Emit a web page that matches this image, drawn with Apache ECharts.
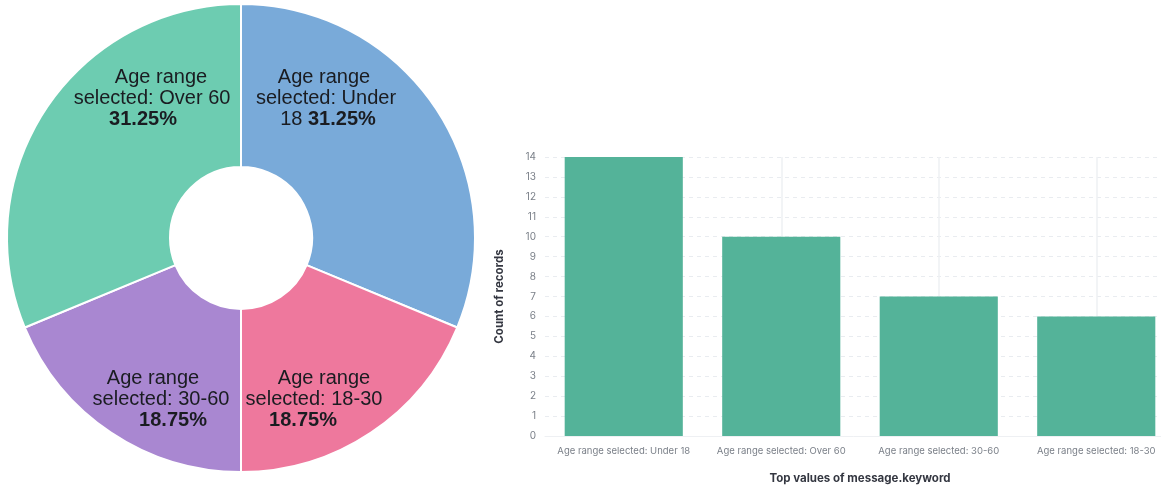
<!DOCTYPE html>
<html>
<head>
<meta charset="utf-8">
<script src="https://cdn.jsdelivr.net/npm/echarts@6/dist/echarts.min.js"></script>
<style>
  html, body { margin: 0; padding: 0; background: #fff; }
  #chart { width: 1161px; height: 491px; }
</style>
</head>
<body>
<div id="chart"></div>
<script>
// ---- Data ----
const pieCategories = ['Age range selected: Under 18', 'Age range selected: 18-30', 'Age range selected: 30-60', 'Age range selected: Over 60'];
const pieValues = [5, 3, 3, 5];

const barCategories = ['Age range selected: Under 18', 'Age range selected: Over 60', 'Age range selected: 30-60', 'Age range selected: 18-30'];
const barValues = [14, 10, 7, 6];

const yTickLabels = ['0','1','2','3','4','5','6','7','8','9','10','11','12','13','14'];

// ---- Style ----
const pieColors = ['#79AAD9', '#EE789D', '#A987D1', '#6DCCB1'];
const PIE_CENTER = [241, 238];
const LABEL_FONT = 'Liberation Sans, Arial, sans-serif';
const LABEL_SIZE = 20;
const WRAP_WIDTH = 162;
// label block offset from pie centre and per-line horizontal nudges
const labelPlacement = [
  { dx: 85, dy: -140, shifts: [-2, 0, 2] },
  { dx: 73, dy: 161, shifts: [10, 0, -11] },
  { dx: -80, dy: 161, shifts: [-8, 0, 12] },
  { dx: -89, dy: -140, shifts: [9, 0, -9] }
];

const ctx = document.createElement('canvas').getContext('2d');
function measure(text, bold) {
  ctx.font = (bold ? 'bold ' : '') + LABEL_SIZE + 'px ' + LABEL_FONT;
  return ctx.measureText(text).width;
}
function wrapWords(words) {
  const lines = [];
  let cur = [];
  let curW = 0;
  words.forEach(w => {
    const ww = measure(w.t, w.b);
    const sp = cur.length ? measure(' ', false) : 0;
    if (cur.length && curW + sp + ww > WRAP_WIDTH) {
      lines.push(cur);
      cur = [w];
      curW = ww;
    } else {
      cur.push(w);
      curW += sp + ww;
    }
  });
  if (cur.length) lines.push(cur);
  return lines;
}

const total = pieValues.reduce((a, b) => a + b, 0);
const pieData = pieCategories.map((name, i) => {
  const pct = (pieValues[i] / total * 100).toFixed(2) + '%';
  const words = name.split(' ').map(t => ({ t, b: false })).concat([{ t: pct, b: true }]);
  const lines = wrapWords(words);
  const rich = {};
  const shifts = labelPlacement[i].shifts;
  const strLines = lines.map((line, li) => {
    const segs = [];
    line.forEach((w, wi) => {
      const txt = (wi > 0 ? ' ' : '') + w.t;
      if (segs.length && segs[segs.length - 1].b === w.b) segs[segs.length - 1].t += txt;
      else segs.push({ t: txt, b: w.b });
    });
    const s = shifts[li] || 0;
    return segs.map((sg, si) => {
      const key = 'l' + li + 's' + si;
      let pad = [0, 0, 0, 0];
      if (si === 0 && s > 0) pad[3] = 2 * s;
      if (si === segs.length - 1 && s < 0) pad[1] = -2 * s;
      rich[key] = {
        fontFamily: LABEL_FONT,
        fontSize: LABEL_SIZE,
        fontWeight: sg.b ? 'bold' : 'normal',
        color: '#1a1c21',
        lineHeight: 21,
        padding: pad
      };
      return '{' + key + '|' + sg.t + '}';
    }).join('');
  });
  return {
    name,
    value: pieValues[i],
    itemStyle: { color: pieColors[i] },
    label: { formatter: strLines.join('\n'), rich }
  };
});

const chart = echarts.init(document.getElementById('chart'), null, { renderer: 'canvas' });
chart.setOption({
  animation: false,
  backgroundColor: '#ffffff',
  grid: { left: 545, top: 157, width: 630, height: 279, containLabel: false, outerBoundsMode: 'none' },
  xAxis: {
    type: 'category',
    data: barCategories,
    name: 'Top values of message.keyword',
    nameLocation: 'middle',
    nameGap: 37,
    nameTextStyle: { fontFamily: 'Inter', fontSize: 11.5, fontWeight: 'bold', color: '#343741' },
    axisLine: { show: true, lineStyle: { color: '#eef0f3', width: 1 } },
    axisTick: { show: false },
    axisLabel: { fontFamily: 'Inter', fontSize: 9.5, color: '#7b8089', margin: 10, interval: 0 },
    splitLine: { show: true, alignWithLabel: true, lineStyle: { color: '#eef0f3', width: 1.5, type: 'solid' } }
  },
  yAxis: {
    type: 'value',
    min: 0, max: 14, interval: 1,
    name: 'Count of records',
    nameLocation: 'middle',
    nameGap: 39,
    nameRotate: 90,
    nameTextStyle: { fontFamily: 'Inter', fontSize: 11.5, fontWeight: 'bold', color: '#343741' },
    axisLine: { show: false },
    axisTick: { show: false },
    axisLabel: {
      fontFamily: 'Inter', fontSize: 10, color: '#7b8089', margin: 9,
      formatter: v => yTickLabels[v] !== undefined ? yTickLabels[v] : ''
    },
    splitLine: { show: true, lineStyle: { color: '#e9ecf0', width: 1, type: [4, 4] } }
  },
  series: [
    {
      type: 'pie',
      center: PIE_CENTER,
      radius: [71, 234],
      startAngle: 90,
      clockwise: true,
      silent: true,
      emphasis: { disabled: true },
      itemStyle: { borderColor: '#ffffff', borderWidth: 2 },
      label: { show: true, position: 'inside', align: 'center', verticalAlign: 'middle' },
      labelLine: { show: false },
      labelLayout: function (params) {
        const p = labelPlacement[params.dataIndex];
        return { x: PIE_CENTER[0] + p.dx, y: PIE_CENTER[1] + p.dy, align: 'center', verticalAlign: 'middle' };
      },
      data: pieData
    },
    {
      type: 'bar',
      data: barValues,
      barCategoryGap: '25%',
      itemStyle: { color: '#54B399' },
      silent: true
    }
  ]
});
</script>
</body>
</html>
